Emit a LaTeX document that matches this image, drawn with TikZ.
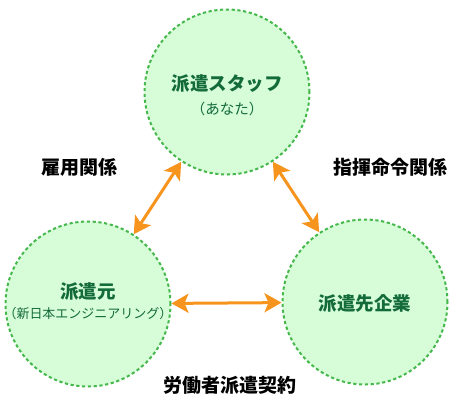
\documentclass[tikz,border=0pt]{standalone}
\usepackage{fontspec}
\setmainfont{Noto Sans CJK JP}
\usetikzlibrary{arrows.meta}
\definecolor{circfill}{HTML}{D6FCD8}
\definecolor{circline}{HTML}{45B84C}
\definecolor{deepgreen}{HTML}{146B3A}
\definecolor{arroworange}{HTML}{F7941D}
\tikzstyle{party}=[circle,fill=circfill,draw=circline,line width=2pt,dash pattern=on 3.2pt off 2.6pt,minimum size=165pt,inner sep=0pt]
\tikzstyle{partyname}=[text=deepgreen,font=\fontsize{18.5}{21}\selectfont\bfseries,inner sep=1pt]
\tikzstyle{partysub}=[text=deepgreen,font=\fontsize{13}{15}\selectfont,inner sep=1pt]
\tikzstyle{relation}=[font=\fontsize{19}{22}\selectfont\bfseries,inner sep=1pt]
\tikzstyle{edge} = [draw,line width=3pt,arroworange,{Stealth[length=17pt,width=19pt,inset=4pt]}-{Stealth[length=17pt,width=19pt,inset=4pt]}]

\begin{document}
\begin{tikzpicture}[x=1pt,y=-1pt]

   \useasboundingbox (0,0) rectangle (455,400);

    % the three parties
    \foreach \pos/ \name in {(227,92)/staff, (88,304)/moto, (365,302)/saki}
        \node[party] (\name) at \pos {};

    \node[partyname] (staffname) at (227,84) {派遣スタッフ};
    \node[partysub,font=\fontsize{14.5}{17}\selectfont] (staffsub) at (227,109) {（あなた）};
    \node[partyname] (motoname) at (88,292) {派遣元};
    \node[partysub] (motosub) at (88,314) {（新日本エンジニアリング）};
    \node[partyname] (sakiname) at (365,303) {派遣先企業};

    % Connect parties with double arrows
    \foreach \source/ \dest in {moto/staff, staff/saki, moto/saki}
        \path[edge] (\source) -- (\dest);

   \node[relation] (koyou) at (79,167) {雇用関係};
   \node[relation] (shiki) at (390,167) {指揮命令関係};
   \node[relation] (keiyaku) at (230,385) {労働者派遣契約};

\end{tikzpicture}
\end{document}
